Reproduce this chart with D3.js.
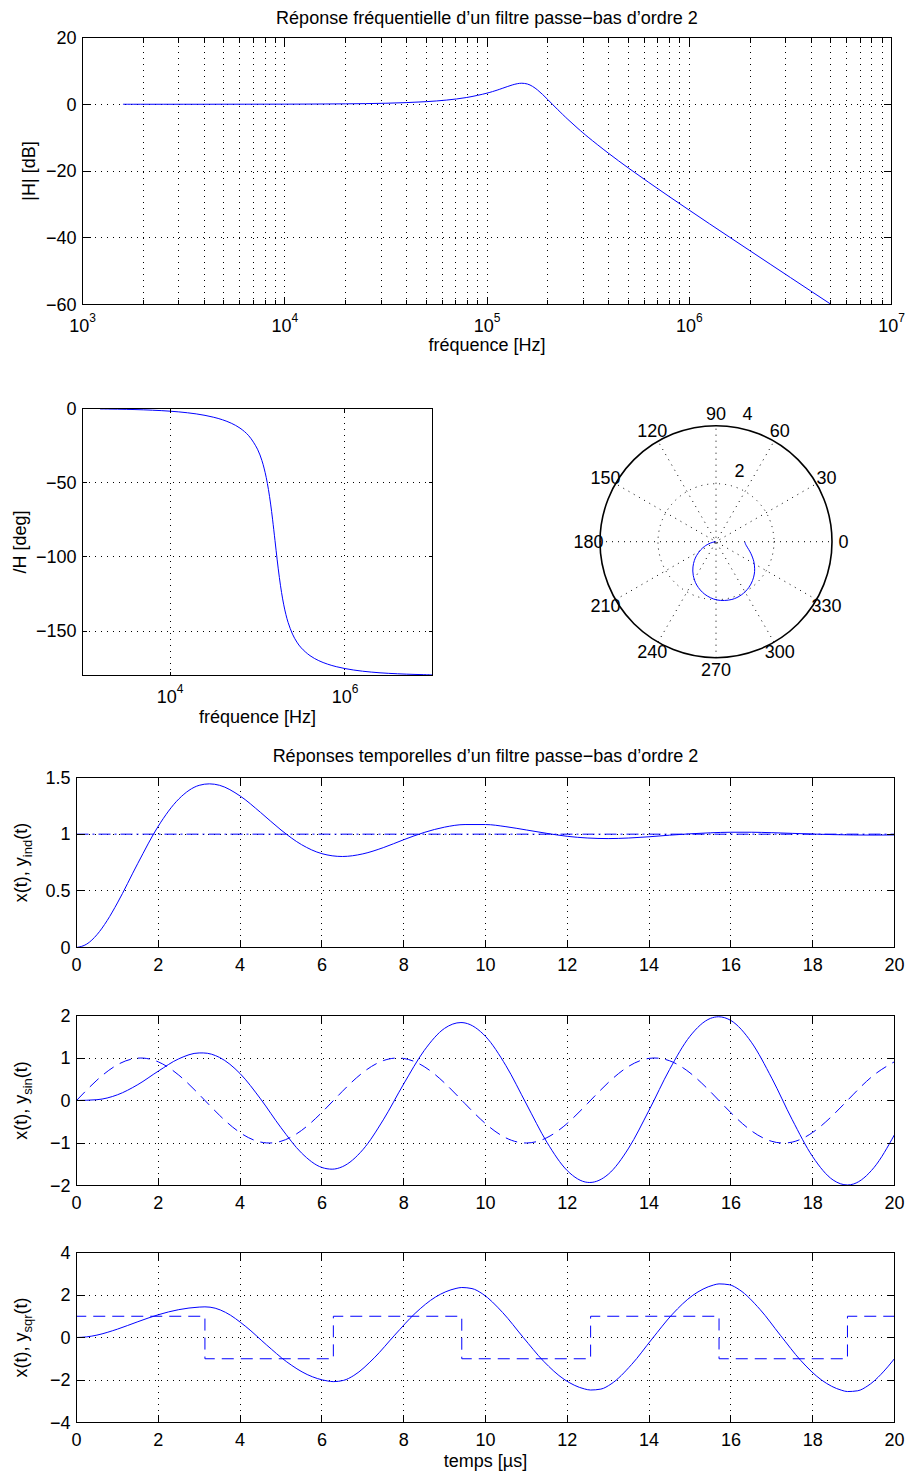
<!DOCTYPE html>
<html>
<head>
<meta charset="utf-8">
<script src="https://cdn.jsdelivr.net/npm/d3@7"></script>
<style>
  body { margin: 0; background: #fff; }
  svg { display: block; font-family: "Liberation Sans", Arial, Helvetica, sans-serif; }
</style>
</head>
<body>
<svg id="fig" width="908" height="1475"></svg>
<script>
// ---------- frequency response of the 2nd-order low-pass filter ----------
const freqHz = [1585, 1995, 2512, 3162, 3981, 5012, 6310, 7943, 10000, 12589, 15849, 19953,
  25119, 31623, 39811, 50119, 63096, 79433, 100000, 112202, 118850, 125893, 133352, 141254,
  148594, 158489, 167880, 177828, 188365, 199526, 211349, 223872, 251189, 281838, 316228,
  398107, 501187, 630957, 794328, 1000000, 1258925, 1584893, 1995262, 2511886, 3162278,
  3981072, 5011872, 6309573, 7943282, 10000000];
const gainDb = [0.00, 0.00, 0.00, 0.00, 0.00, 0.01, 0.01, 0.02, 0.03, 0.05, 0.08, 0.12,
  0.19, 0.30, 0.49, 0.78, 1.25, 2.03, 3.33, 4.23, 4.75, 5.28, 5.78, 6.16,
  6.30, 6.06, 5.36, 4.27, 2.92, 1.43, -0.10, -1.62, -4.54, -7.28, -9.86,
  -14.65, -19.14, -23.43, -27.62, -31.73, -35.81, -39.85, -43.88, -47.90, -51.91,
  -55.92, -59.92, -63.92, -67.92, -71.92];
const phaseDeg = [-0.29, -0.36, -0.45, -0.57, -0.72, -0.90, -1.14, -1.43, -1.81, -2.28, -2.88, -3.64,
  -4.63, -5.91, -7.60, -9.92, -13.23, -18.38, -27.43, -35.02, -40.17, -46.58, -54.58, -64.44,
  -74.63, -89.04, -102.06, -113.97, -124.10, -132.36, -138.99, -144.29, -152.11, -157.48, -161.38,
  -166.62, -169.99, -172.33, -174.04, -175.33, -176.32, -177.10, -177.70, -178.18, -178.55,
  -178.85, -179.09, -179.28, -179.43, -179.54];

// ---------- time responses (t in µs) ----------
const stepInT = [0, 20];
const stepInY = [1, 1];
const stepT = [0, 0.25, 0.5, 0.75, 1, 1.5, 2, 2.5, 3, 3.25, 3.5, 4, 4.5, 5, 5.5, 6, 6.5, 7, 7.5, 8, 8.5, 9, 9.5,
  10, 10.5, 11, 11.5, 12, 12.5, 13, 13.5, 14, 14.5, 15, 15.5, 16, 16.5, 17, 17.5, 18, 18.5, 19, 19.5, 20];
const stepY = [0, 0.030, 0.113, 0.238, 0.393, 0.743, 1.071, 1.310, 1.431, 1.444, 1.431, 1.337, 1.192, 1.037, 0.908,
  0.828, 0.803, 0.826, 0.881, 0.951, 1.015, 1.062, 1.085, 1.085, 1.066, 1.037, 1.007, 0.981, 0.966,
  0.961, 0.966, 0.977, 0.991, 1.003, 1.012, 1.017, 1.017, 1.013, 1.007, 1.001, 0.996, 0.993, 0.992, 0.993];

const sinInT = [0, 0.5, 1, 1.5, 2, 2.5, 3, 3.5, 4, 4.5, 5, 5.5, 6, 6.5, 7, 7.5, 8, 8.5, 9, 9.5, 10,
  10.5, 11, 11.5, 12, 12.5, 13, 13.5, 14, 14.5, 15, 15.5, 16, 16.5, 17, 17.5, 18, 18.5, 19, 19.5, 20];
const sinInY = [0, 0.479, 0.841, 0.997, 0.909, 0.598, 0.141, -0.351, -0.757, -0.978, -0.959, -0.706,
  -0.279, 0.215, 0.657, 0.938, 0.989, 0.798, 0.412, -0.075, -0.544, -0.880, -1.000, -0.875, -0.537,
  -0.066, 0.420, 0.804, 0.991, 0.935, 0.650, 0.207, -0.288, -0.712, -0.961, -0.979, -0.751, -0.340,
  0.150, 0.602, 0.913];
const sinOutT = [0, 0.5, 1, 1.5, 2, 2.5, 3, 3.1, 3.5, 4, 4.5, 5, 5.5, 6, 6.25, 6.5, 7, 7.5, 8, 8.5, 9,
  9.4, 9.5, 10, 10.5, 11, 11.5, 12, 12.5, 12.55, 13, 13.5, 14, 14.5, 15, 15.5, 15.7, 16, 16.5, 17,
  17.5, 18, 18.5, 18.85, 19, 19.5, 20];
const sinOutY = [0, 0.019, 0.134, 0.374, 0.691, 0.981, 1.119, 1.119, 1.012, 0.633, 0.038, -0.640,
  -1.233, -1.576, -1.616, -1.558, -1.159, -0.456, 0.390, 1.174, 1.698, 1.834, 1.824, 1.509, 0.819,
  -0.083, -0.980, -1.651, -1.927, -1.929, -1.737, -1.121, -0.227, 0.729, 1.513, 1.932, 1.970, 1.882,
  1.372, 0.525, -0.453, -1.323, -1.872, -1.988, -1.964, -1.576, -0.803];

const sqrInT = [0, 0, 3.14, 6.28, 9.42, 12.57, 15.71, 18.85, 20];
const sqrInY = [0, 1, -1, 1, -1, 1, -1, 1, 1];
const sqrOutT = [0, 0.25, 0.5, 1, 1.5, 2, 2.5, 3,
  3.14, 3.39, 3.64, 4.14, 4.64, 5.14, 5.64, 6.14,
  6.28, 6.53, 6.78, 7.28, 7.78, 8.28, 8.78, 9.28,
  9.42, 9.67, 9.92, 10.42, 10.92, 11.42, 11.92, 12.42,
  12.57, 12.82, 13.07, 13.57, 14.07, 14.57, 15.07, 15.57,
  15.71, 15.96, 16.21, 16.71, 17.21, 17.71, 18.21, 18.71,
  18.85, 19.10, 19.35, 19.85, 20];
const sqrOutY = [0, 0.030, 0.113, 0.393, 0.743, 1.071, 1.311, 1.431,
  1.442, 1.380, 1.186, 0.514, -0.338, -1.145, -1.742, -2.046,
  -2.077, -2.017, -1.788, -0.958, 0.112, 1.138, 1.907, 2.309,
  2.353, 2.302, 2.063, 1.173, 0.010, -1.115, -1.966, -2.420,
  -2.472, -2.428, -2.188, -1.276, -0.073, 1.097, 1.986, 2.466,
  2.523, 2.483, 2.244, 1.325, 0.105, -1.085, -1.992, -2.485,
  -2.544, -2.507, -2.269, -1.347, -0.994];

// ---------- tick values ----------
const decadeTicks = [1e3, 1e4, 1e5, 1e6, 1e7];
const decadeExp = ["3", "4", "5", "6", "7"];
const gainTicks = [-60, -40, -20, 0, 20];
const phaseFreqTicks = [1e4, 1e6];
const phaseFreqExp = ["4", "6"];
const phaseTicks = [-150, -100, -50, 0];
const polarAngles = [0, 30, 60, 90, 120, 150, 180, 210, 240, 270, 300, 330];
const polarSpokes = [0, 30, 60, 90, 120, 150];
const polarRings = [2, 4];
const timeTicks = [0, 2, 4, 6, 8, 10, 12, 14, 16, 18, 20];
const stepTicks = [0, 0.5, 1, 1.5];
const sinTicks = [-2, -1, 0, 1, 2];
const sqrTicks = [-4, -2, 0, 2, 4];

// ---------- helpers ----------
const svg = d3.select("#fig");
const FS = 18;
const BLUE = "#0000ff";
const fmt = d3.format("~g");
const crisp = v => Math.floor(v) + 0.5;
let clipCount = 0;

function pairs(xs, ys) { return xs.map((v, i) => [v, ys[i]]); }

function addClip(b) {
  const id = "clip" + (clipCount++);
  svg.append("clipPath").attr("id", id).append("rect")
    .attr("x", b.x0).attr("y", b.y0).attr("width", b.x1 - b.x0).attr("height", b.y1 - b.y0);
  return "url(#" + id + ")";
}

function drawGrid(b, x, y, xs, ys) {
  const g = svg.append("g").attr("stroke", "#000").attr("stroke-width", 1)
    .attr("stroke-dasharray", "1,5").attr("shape-rendering", "crispEdges");
  xs.forEach(v => {
    const p = crisp(x(v));
    if (p > b.x0 + 1 && p < b.x1 - 1)
      g.append("line").attr("x1", p).attr("x2", p).attr("y1", b.y1).attr("y2", b.y0);
  });
  ys.forEach(v => {
    const p = crisp(y(v));
    if (p > b.y0 + 1 && p < b.y1 - 1)
      g.append("line").attr("x1", b.x0).attr("x2", b.x1).attr("y1", p).attr("y2", p);
  });
}

function drawTicks(b, x, y, xs, ys, len) {
  const g = svg.append("g").attr("stroke", "#000").attr("stroke-width", 1)
    .attr("shape-rendering", "crispEdges");
  xs.forEach(v => {
    const p = crisp(x(v));
    g.append("line").attr("x1", p).attr("x2", p).attr("y1", b.y1).attr("y2", b.y1 - len);
    g.append("line").attr("x1", p).attr("x2", p).attr("y1", b.y0).attr("y2", b.y0 + len);
  });
  ys.forEach(v => {
    const p = crisp(y(v));
    g.append("line").attr("x1", b.x0).attr("x2", b.x0 + len).attr("y1", p).attr("y2", p);
    g.append("line").attr("x1", b.x1).attr("x2", b.x1 - len).attr("y1", p).attr("y2", p);
  });
}

function drawFrame(b) {
  svg.append("rect").attr("x", b.x0).attr("y", b.y0)
    .attr("width", b.x1 - b.x0).attr("height", b.y1 - b.y0)
    .attr("fill", "none").attr("stroke", "#000").attr("stroke-width", 1)
    .attr("shape-rendering", "crispEdges");
}

function yTickLabels(b, y, ys) {
  ys.forEach(v => {
    svg.append("text").attr("x", b.x0 - 6).attr("y", y(v)).attr("dy", "0.35em")
      .attr("text-anchor", "end").attr("font-size", FS).text(fmt(v));
  });
}

function xTickLabels(b, x, xs) {
  xs.forEach(v => {
    svg.append("text").attr("x", x(v)).attr("y", b.y1 + 23)
      .attr("text-anchor", "middle").attr("font-size", FS).text(fmt(v));
  });
}

function powerLabels(b, x, xs, exps) {
  xs.forEach((v, i) => {
    const t = svg.append("text").attr("x", x(v)).attr("y", b.y1 + 27.5)
      .attr("text-anchor", "middle").attr("font-size", FS);
    t.append("tspan").text("10");
    t.append("tspan").attr("font-size", 12).attr("dy", -10).text(exps[i]);
  });
}

function plainText(x, y, s, rotate) {
  const t = svg.append("text").attr("font-size", FS).attr("text-anchor", "middle");
  if (rotate) t.attr("transform", `translate(${x},${y}) rotate(-90)`);
  else t.attr("x", x).attr("y", y);
  t.text(s);
  return t;
}

function curve(b, x, y, data, opts) {
  const line = d3.line().x(d => x(d[0])).y(d => y(d[1])).curve(opts.curve || d3.curveCatmullRom);
  const p = svg.append("path").datum(data).attr("clip-path", addClip(b))
    .attr("d", line).attr("fill", "none").attr("stroke", BLUE).attr("stroke-width", 1);
  if (opts.dash) p.attr("stroke-dasharray", opts.dash);
  return p;
}

// ---------- 1. gain (Bode magnitude) ----------
{
  const b = { x0: 82.5, y0: 37.5, x1: 891.5, y1: 304.5 };
  const x = d3.scaleLog().domain([1e3, 1e7]).range([b.x0, b.x1]);
  const y = d3.scaleLinear().domain([-60, 20]).range([b.y1, b.y0]);
  const allTicks = x.ticks();
  const minor = allTicks.filter(v => !decadeTicks.includes(v));
  drawGrid(b, x, y, allTicks, gainTicks);
  curve(b, x, y, pairs(freqHz, gainDb), {});
  drawTicks(b, x, y, decadeTicks, gainTicks, 8);
  drawTicks(b, x, y, minor, [], 5);
  drawFrame(b);
  yTickLabels(b, y, gainTicks);
  powerLabels(b, x, decadeTicks, decadeExp);
  plainText((b.x0 + b.x1) / 2, 24, "Réponse fréquentielle d’un filtre passe−bas d’ordre 2");
  plainText((b.x0 + b.x1) / 2, 351, "fréquence [Hz]");
  plainText(34.5, (b.y0 + b.y1) / 2, "|H| [dB]", true);
}

// ---------- 2. phase ----------
{
  const b = { x0: 82.5, y0: 408.5, x1: 432.5, y1: 675.5 };
  const x = d3.scaleLog().domain([1e3, 1e7]).range([b.x0, b.x1]);
  const y = d3.scaleLinear().domain([-180, 0]).range([b.y1, b.y0]);
  drawGrid(b, x, y, phaseFreqTicks, phaseTicks);
  curve(b, x, y, pairs(freqHz, phaseDeg), {});
  drawTicks(b, x, y, phaseFreqTicks, phaseTicks, 4);
  drawFrame(b);
  yTickLabels(b, y, phaseTicks);
  powerLabels(b, x, phaseFreqTicks, phaseFreqExp);
  plainText((b.x0 + b.x1) / 2, 722.5, "fréquence [Hz]");
  plainText(26, (b.y0 + b.y1) / 2, "/H [deg]", true);
}

// ---------- 3. polar plot |H| vs phase ----------
{
  const cx = 716, cy = 541.7;
  const r = d3.scaleLinear().domain([0, 4]).range([0, 116]);
  const g = svg.append("g").attr("transform", `translate(${cx},${cy})`);
  const rad = a => a * Math.PI / 180;
  const gridG = g.append("g").attr("stroke", "#000").attr("stroke-width", 1)
    .attr("stroke-dasharray", "1,5").attr("fill", "none");
  polarSpokes.forEach(a => {
    gridG.append("line")
      .attr("x1", -r(4) * Math.cos(rad(a))).attr("y1", r(4) * Math.sin(rad(a)))
      .attr("x2", r(4) * Math.cos(rad(a))).attr("y2", -r(4) * Math.sin(rad(a)));
  });
  polarRings.filter(v => v < 4).forEach(v => gridG.append("circle").attr("r", r(v)));
  g.append("circle").attr("r", r(4)).attr("fill", "none").attr("stroke", "#000").attr("stroke-width", 1.6);

  const radial = d3.lineRadial()
    .angle(d => Math.PI / 2 - rad(d[0]))
    .radius(d => r(Math.pow(10, d[1] / 20)))
    .curve(d3.curveCatmullRom);
  g.append("path").datum(pairs(phaseDeg, gainDb)).attr("d", radial)
    .attr("fill", "none").attr("stroke", BLUE).attr("stroke-width", 1);

  polarAngles.forEach(a => {
    const rr = r(4) * 1.1;
    g.append("text").attr("x", rr * Math.cos(rad(a))).attr("y", -rr * Math.sin(rad(a)))
      .attr("dy", "0.35em").attr("text-anchor", "middle").attr("font-size", FS).text(a);
  });
  polarRings.forEach(v => {
    const rr = r(v + 0.1);
    g.append("text").attr("x", rr * Math.cos(rad(82))).attr("y", -rr * Math.sin(rad(82)))
      .attr("dx", 10).attr("dy", -4).attr("text-anchor", "start").attr("font-size", FS).text(v);
  });
}

// ---------- 4-6. time responses ----------
function timeYLabel(cy, sub) {
  const t = svg.append("text").attr("transform", `translate(27,${cy}) rotate(-90)`)
    .attr("text-anchor", "middle").attr("font-size", FS);
  t.append("tspan").text("x(t), y");
  t.append("tspan").attr("font-size", 13).attr("dy", 5).text(sub);
  t.append("tspan").attr("dy", -5).text("(t)");
}

function timePanel(b, domainY, ticksY, series, sub) {
  const x = d3.scaleLinear().domain([0, 20]).range([b.x0, b.x1]);
  const y = d3.scaleLinear().domain(domainY).range([b.y1, b.y0]);
  drawGrid(b, x, y, timeTicks, ticksY);
  series.forEach(s => curve(b, x, y, s.data, s));
  drawTicks(b, x, y, timeTicks, ticksY, 8);
  drawFrame(b);
  yTickLabels(b, y, ticksY);
  xTickLabels(b, x, timeTicks);
  timeYLabel((b.y0 + b.y1) / 2, sub);
}

timePanel({ x0: 76.5, y0: 777.5, x1: 894.5, y1: 947.5 }, [0, 1.5], stepTicks, [
  { data: pairs(stepInT, stepInY), curve: d3.curveLinear, dash: "12,4,2,4" },
  { data: pairs(stepT, stepY), curve: d3.curveMonotoneX }
], "ind");
plainText((76.5 + 894.5) / 2, 762, "Réponses temporelles d’un filtre passe−bas d’ordre 2");

timePanel({ x0: 76.5, y0: 1015.5, x1: 894.5, y1: 1185.5 }, [-2, 2], sinTicks, [
  { data: pairs(sinInT, sinInY), curve: d3.curveNatural, dash: "12,7" },
  { data: pairs(sinOutT, sinOutY), curve: d3.curveMonotoneX }
], "sin");

timePanel({ x0: 76.5, y0: 1252.5, x1: 894.5, y1: 1422.5 }, [-4, 4], sqrTicks, [
  { data: pairs(sqrInT, sqrInY), curve: d3.curveStepAfter, dash: "12,7" },
  { data: pairs(sqrOutT, sqrOutY), curve: d3.curveMonotoneX }
], "sqr");
plainText((76.5 + 894.5) / 2, 1467, "temps [µs]");
</script>
</body>
</html>
